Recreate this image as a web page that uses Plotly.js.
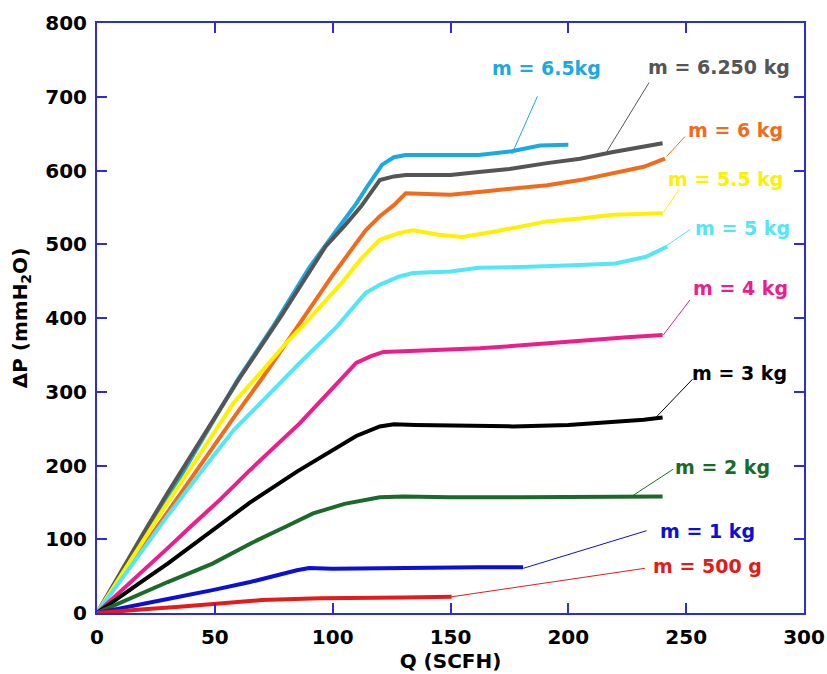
<!DOCTYPE html>
<html>
<head>
<meta charset="utf-8">
<script src="https://cdn.plot.ly/plotly-3.0.1.min.js"></script>
<style>html,body{margin:0;padding:0;background:#fff;}#chart{width:827px;height:674px;}</style>
</head>
<body>
<div id="chart"></div>
<script>
// ---- data ----
const seriesNames = ["m = 6.5kg","m = 6.250 kg","m = 6 kg","m = 5.5 kg","m = 5 kg","m = 4 kg","m = 3 kg","m = 2 kg","m = 1 kg","m = 500 g"];

const q_6500 = [0,10,20,30,40,50,60,75,90,100,110,115,121,126,131,140,150,162,176,188,200];
const p_6500 = [0,52,104,155,210,263,318,390,468,512,555,580,608,618,621,621,621,621,626,634,635];

const q_6250 = [0,10,20,30,44,60,78,97,105,112,120,126,131,150,162,175,191,205,219,230,240];
const p_6250 = [0,56,110,163,235,316,402,497,525,551,587,592,594,594,598,602,610,616,625,631,637];

const q_6000 = [0,10,20,30,44,58,70,85,100,114,120,126,131,140,150,162,175,191,205,219,232,241];
const p_6000 = [0,46,92,137,200,265,318,388,458,519,538,553,569,568,567,571,575,580,587,596,605,616];

const q_5500 = [0,10,20,30,45,58,70,80,89,97,104,112,120,128,134,145,155,170,191,205,219,230,240];
const p_5500 = [0,50,100,150,222,285,328,365,395,424,448,480,506,515,519,513,510,518,531,535,540,541,542];

const q_5000 = [0,10,20,30,45,58,71,86,101.7,109,114,120,128,134,150,162,180,205,220,233,238,242];
const p_5000 = [0,44,88,132,195,248,290,339,388,415,434,445,456,461,463,468,469,472,474,483,490,497];

const q_4000 = [0,10,20,30,40,52,65,86,100,110,116,121.5,130,150,162.5,176,191,210,225,240];
const p_4000 = [0,29,59,88,118,153,194,257,305,339,348,354,355,357,359,362,366,370,374,377];

const q_3000 = [0,10,20,30,45,65,85,100,110,120,126,135,150,176.5,200,219,232,240];
const p_3000 = [0,23,45,67,103,150,192,221,240,253,256,255,254,253,255,259,262,265];

const q_2000 = [0,10,20,30,49,65,80,91.7,105,113,120,130,150,180,200,226.8,240];
const p_2000 = [0,14,28,42,67,94,117,135,148,153,157,158,157,157,157,157,158];

const q_1000 = [0,10,20,30,49,65,84.8,90,100,120,140,162,180.8];
const p_1000 = [0,6,12,19,31,42,58,61,60,61,61,62,62];

const q_500 = [0,10,20,35,50,70,94.6,110,130,150.5];
const p_500 = [0,3,5,8.5,12,17.6,20,21,21,22];

// label positions (Q, dP) and leader lines [Q1, dP1, Q2, dP2]
const labelQ = [190.9,263.9,271,266.8,273.7,273.2,272.8,265.6,259,259];
const labelP = [739,740.7,655,588,522,440.7,325.8,198.4,111.6,63.7];
const leaders = [
  [176,622,186.9,700.6],
  [216.3,625.5,234.2,719],
  [241.7,619,249.5,646],
  [240.3,543,247,574.5],
  [238.9,492,251.6,520],
  [240.3,377,251.6,424.4],
  [237.4,266,252.7,317],
  [226.8,158,244.5,195],
  [180.9,60.6,233.2,111.6],
  [150.5,22,232.5,60.6]
];

const xTicks = [0,50,100,150,200,250,300];
const yTicks = [0,100,200,300,400,500,600,700,800];

const colors = ["#1ba9e1","#555555","#f26b1a","#fff000","#52e6f7","#ec1e8c","#000000","#1a6b2a","#0b10d4","#e31b1b"];

const Qs = [q_6500,q_6250,q_6000,q_5500,q_5000,q_4000,q_3000,q_2000,q_1000,q_500];
const Ps = [p_6500,p_6250,p_6000,p_5500,p_5000,p_4000,p_3000,p_2000,p_1000,p_500];

const font = "DejaVu Sans, Verdana, sans-serif";
const frame = "#2b2bdf";

const traces = Qs.map((q,i)=>({
  x:q, y:Ps[i], type:"scatter", mode:"lines", name:seriesNames[i],
  line:{color:colors[i], width:4}, showlegend:false, hoverinfo:"x+y"
}));

const shapes = leaders.map((l,i)=>({
  type:"line", xref:"x", yref:"y", x0:l[0], y0:l[1], x1:l[2], y1:l[3],
  line:{color:colors[i], width:1}
}));

const annotations = seriesNames.map((t,i)=>({
  x:labelQ[i], y:labelP[i], xref:"x", yref:"y", text:"<b>"+t+"</b>", showarrow:false,
  xanchor:"center", yanchor:"middle",
  font:{family:font, size:19, color:colors[i]}
}));

const axisCommon = {
  showgrid:false, zeroline:false, showline:true, linecolor:frame, linewidth:2,
  mirror:"ticks", ticks:"inside", ticklen:10, tickwidth:2, tickcolor:frame,
  tickfont:{family:font, size:20, color:"#000", weight:"bold"}
};

const layout = {
  width:827, height:674,
  margin:{l:97, r:23, t:23, b:61},
  paper_bgcolor:"#fff", plot_bgcolor:"#fff",
  xaxis:Object.assign({}, axisCommon, {
    range:[0,300], tickvals:xTicks, ticktext:xTicks.map(String), ticklabelstandoff:5,
    title:{text:"<b>Q (SCFH)</b>", font:{family:font, size:20, color:"#000"}, standoff:0}
  }),
  yaxis:Object.assign({}, axisCommon, {
    range:[0,800], tickvals:yTicks, ticktext:yTicks.map(String), ticklabelstandoff:4,
    title:{text:"<b>ΔP (mmH<sub>2</sub>O)</b>", font:{family:font, size:20, color:"#000"}, standoff:12}
  }),
  shapes:shapes,
  annotations:annotations
};

Plotly.newPlot("chart", traces, layout, {displayModeBar:false, staticPlot:true});
</script>
</body>
</html>
